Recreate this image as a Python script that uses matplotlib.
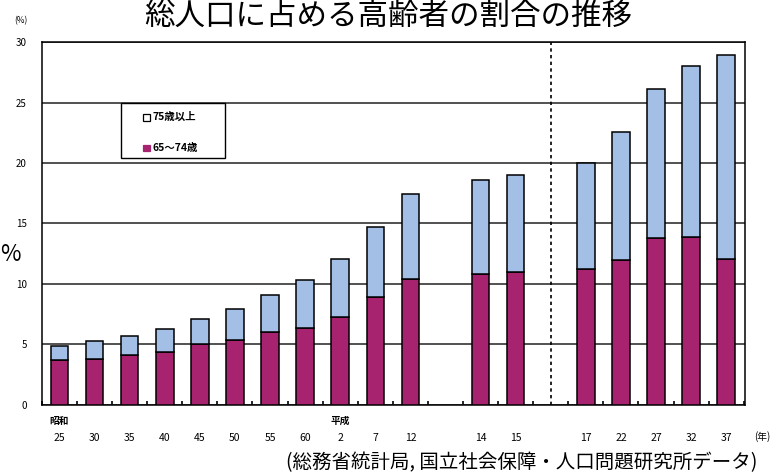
import numpy as np
import matplotlib.pyplot as plt
from matplotlib.patches import Rectangle
import matplotlib.transforms as mtransforms

plt.rcParams['font.family'] = ['Noto Sans CJK JP', 'DejaVu Sans']

# data
years = ['25', '30', '35', '40', '45', '50', '55', '60', '2', '7', '12',
         '14', '15', '17', '22', '27', '32', '37']
slots = [0, 1, 2, 3, 4, 5, 6, 7, 8, 9, 10, 12, 13, 15, 16, 17, 18, 19]
age_65_74 = [3.7, 3.8, 4.1, 4.4, 5.0, 5.4, 6.0, 6.4, 7.3, 8.9, 10.4,
             10.8, 11.0, 11.2, 12.0, 13.8, 13.9, 12.1]
age_75_up = [1.2, 1.5, 1.6, 1.9, 2.1, 2.5, 3.1, 3.9, 4.8, 5.8, 7.0,
             7.8, 8.0, 8.8, 10.6, 12.3, 14.1, 16.8]
era_labels = {0: '昭和', 8: '平成'}
legend_labels = ['75歳以上', '65〜74歳']
split_slot = 14  # actual vs projection

magenta = '#a8236f'
light_blue = '#a4bfe6'

fig = plt.figure(figsize=(7.77, 4.72), dpi=100)
ax = fig.add_axes([0.054, 0.142, 0.905, 0.769])

x = np.array(slots)
ax.bar(x, age_65_74, width=0.5, color=magenta, edgecolor='black', linewidth=1.1, zorder=3)
ax.bar(x, age_75_up, width=0.5, bottom=age_65_74, color=light_blue,
       edgecolor='black', linewidth=1.1, zorder=3)

ax.set_xlim(-0.46, 19.54)
ax.set_ylim(0, 30)
ax.set_yticks(range(0, 31, 5))
ax.yaxis.grid(True, color='#222222', linewidth=1.1, zorder=1)
ax.tick_params(axis='y', length=0, pad=11, labelsize=7)
for s in ax.spines.values():
    s.set_linewidth(1.1)

ax.set_xticks(x)
ax.set_xticklabels(years)
ax.tick_params(axis='x', length=0, pad=20, labelsize=7.5)
ax.set_xticks(np.arange(-0.5, 20, 1.0), minor=True)
ax.tick_params(axis='x', which='minor', direction='in', length=3, width=1.2)

ax.axvline(split_slot, color='black', linestyle=(0, (2, 2)), linewidth=1.2, zorder=2)

trans = mtransforms.blended_transform_factory(ax.transData, ax.transAxes)
for slot, name in era_labels.items():
    ax.text(slot, -0.044, name, transform=trans, ha='center', va='center',
            fontsize=7, fontweight='bold')
ax.text(20.02, -0.088, '(年)', transform=trans, ha='center', va='center', fontsize=7,
        clip_on=False)

# legend box drawn by hand to get the wide frame of the original
ax.add_patch(Rectangle((0.112, 0.680), 0.149, 0.152, transform=ax.transAxes,
                       facecolor='white', edgecolor='black', linewidth=1.0, zorder=5))
for ypos, face, edge, label in [(0.793, 'white', 'black', legend_labels[0]),
                                (0.708, magenta, magenta, legend_labels[1])]:
    ax.add_patch(Rectangle((0.144, ypos - 0.0095), 0.0095, 0.019, transform=ax.transAxes,
                           facecolor=face, edgecolor=edge, linewidth=0.9, zorder=6))
    ax.text(0.157, ypos, label, transform=ax.transAxes, ha='left', va='center',
            fontsize=7.5, fontweight='bold', zorder=6)

fig.text(0.027, 0.957, '(%)', fontsize=6, ha='center', va='center')
fig.text(0.013, 0.46, '%', fontsize=16, ha='center', va='center')
fig.text(0.5, 0.999, '総人口に占める高齢者の割合の推移', fontsize=22,
         ha='center', va='top')
fig.text(0.671, 0.019, '(総務省統計局, 国立社会保障・人口問題研究所データ)',
         fontsize=14, ha='center', va='center')

fig.savefig('out.png', dpi=100)
